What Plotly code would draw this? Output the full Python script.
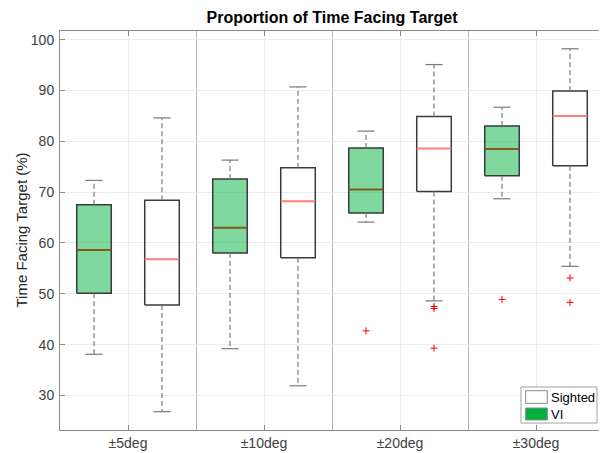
import plotly.graph_objects as go

categories = ["±5deg", "±10deg", "±20deg", "±30deg"]

# VI group (green)
vi_low = [38.1, 39.2, 64.1, 68.7]
vi_q1 = [50.1, 58.0, 65.9, 73.2]
vi_med = [58.6, 63.0, 70.5, 78.5]
vi_q3 = [67.5, 72.6, 78.7, 83.0]
vi_high = [72.3, 76.3, 82.0, 86.7]
vi_out_x = ["±20deg", "±30deg"]
vi_out_y = [42.7, 48.9]

# Sighted group (white)
si_low = [26.8, 31.9, 48.6, 55.4]
si_q1 = [47.8, 57.1, 70.1, 75.2]
si_med = [56.8, 68.2, 78.6, 85.0]
si_q3 = [68.4, 74.8, 84.9, 89.9]
si_high = [84.6, 90.7, 95.1, 98.2]
si_out_x = ["±20deg", "±20deg", "±20deg", "±30deg", "±30deg"]
si_out_y = [47.5, 47.1, 39.3, 53.1, 48.3]

legend_names = ["Sighted", "VI"]
y_title = "Time Facing Target (%)"

OFFSET = 0.25
HALF_W = 0.127
CAP_HALF = 0.063

BOX_LINE = "#3a3a3a"
WHISK = "#7a7a7a"
GREEN_FILL = "rgba(0,178,60,0.5)"
GREEN_LEG = "rgb(0,178,60)"
VI_MED = "rgb(128,90,32)"
SI_MED = "rgb(255,125,125)"

fig = go.Figure()


def add_group(off, low, q1, med, q3, high, out_x, out_y, fill, medcol):
    for i, cat in enumerate(categories):
        c = i + 1 + off
        # box
        fig.add_trace(go.Scatter(
            x=[c - HALF_W, c + HALF_W, c + HALF_W, c - HALF_W, c - HALF_W],
            y=[q1[i], q1[i], q3[i], q3[i], q1[i]],
            mode="lines", fill="toself", fillcolor=fill,
            line=dict(color=BOX_LINE, width=1.5), showlegend=False, hoverinfo="skip"))
        # whiskers dashed
        fig.add_trace(go.Scatter(
            x=[c, c, None, c, c], y=[q3[i], high[i], None, q1[i], low[i]],
            mode="lines", line=dict(color=WHISK, width=1.2, dash="5px,3px"),
            showlegend=False, hoverinfo="skip"))
        # caps
        fig.add_trace(go.Scatter(
            x=[c - CAP_HALF, c + CAP_HALF, None, c - CAP_HALF, c + CAP_HALF],
            y=[high[i], high[i], None, low[i], low[i]],
            mode="lines", line=dict(color=WHISK, width=1.2),
            showlegend=False, hoverinfo="skip"))
        # median
        fig.add_trace(go.Scatter(
            x=[c - HALF_W, c + HALF_W], y=[med[i], med[i]],
            mode="lines", line=dict(color=medcol, width=2),
            showlegend=False, hoverinfo="skip"))
    ox = [categories.index(v) + 1 + off for v in out_x]
    fig.add_trace(go.Scatter(
        x=ox, y=out_y, mode="markers",
        marker=dict(symbol="cross-thin", size=5, line=dict(color="red", width=1)),
        showlegend=False, hoverinfo="skip"))


add_group(-OFFSET, vi_low, vi_q1, vi_med, vi_q3, vi_high, vi_out_x, vi_out_y, GREEN_FILL, VI_MED)
add_group(OFFSET, si_low, si_q1, si_med, si_q3, si_high, si_out_x, si_out_y, "rgba(255,255,255,0)", SI_MED)

# compact MATLAB-style legend (bottom right of the axes)
fig.add_shape(type="rect", xref="x domain", yref="y domain",
              x0=0.8474, x1=0.9871, y0=0.0175, y1=0.1078,
              fillcolor="white", line=dict(color="#a0a0a0", width=1), layer="above")
leg_fill = ["white", GREEN_LEG]
leg_y = [(0.0669, 0.0985), (0.0251, 0.0551)]
for name, fc, (ya, yb) in zip(legend_names, leg_fill, leg_y):
    fig.add_shape(type="rect", xref="x domain", yref="y domain",
                  x0=0.856, x1=0.8958, y0=ya, y1=yb,
                  fillcolor=fc, line=dict(color="#8a8a8a", width=1), layer="above")
    fig.add_annotation(text=name, xref="x domain", yref="y domain",
                       x=0.899, y=(ya + yb) / 2, xanchor="left", yanchor="middle",
                       showarrow=False, font=dict(size=13, color="black"))

# y-axis title
fig.add_annotation(text=y_title, xref="x domain", yref="y domain", x=0, y=0.5,
                   xanchor="center", yanchor="middle", xshift=-39, textangle=-90,
                   showarrow=False, font=dict(size=15, color="#262626"))

# the page body adds an 8px offset, so the figure is sized to fit the window
fig.update_layout(
    width=599, height=445,
    margin=dict(l=52, r=3, t=23, b=23, autoexpand=False),
    paper_bgcolor="white", plot_bgcolor="white",
    font=dict(family="Liberation Sans, Arial, sans-serif", size=14, color="#404040"),
    title=dict(text="<b>Proportion of Time Facing Target</b>", x=0.541, xanchor="center",
               y=0.98, yanchor="middle", font=dict(size=16, color="black"), automargin=False),
    showlegend=False,
)

fig.update_xaxes(
    range=[0.5, 4.5], tickmode="array", tickvals=[1, 2, 3, 4], ticktext=categories,
    ticks="inside", ticklen=5, tickcolor="#8a8a8a",
    showline=True, linecolor="#8a8a8a", linewidth=1, mirror="ticks",
    showgrid=True, gridcolor="#ececec", gridwidth=1, zeroline=False, automargin=False,
    minor=dict(tickvals=[1.5, 2.5, 3.5], showgrid=True, gridcolor="#b8b8b8", gridwidth=1, ticks=""),
)
fig.update_yaxes(
    range=[23.2, 101.7], tickmode="array", tickvals=[30, 40, 50, 60, 70, 80, 90, 100],
    ticks="inside", ticklen=5, tickcolor="#8a8a8a", ticklabelstandoff=2,
    showline=True, linecolor="#8a8a8a", linewidth=1, mirror="ticks",
    showgrid=True, gridcolor="#ececec", gridwidth=1, zeroline=False, automargin=False,
)

fig.write_html("out.html")
